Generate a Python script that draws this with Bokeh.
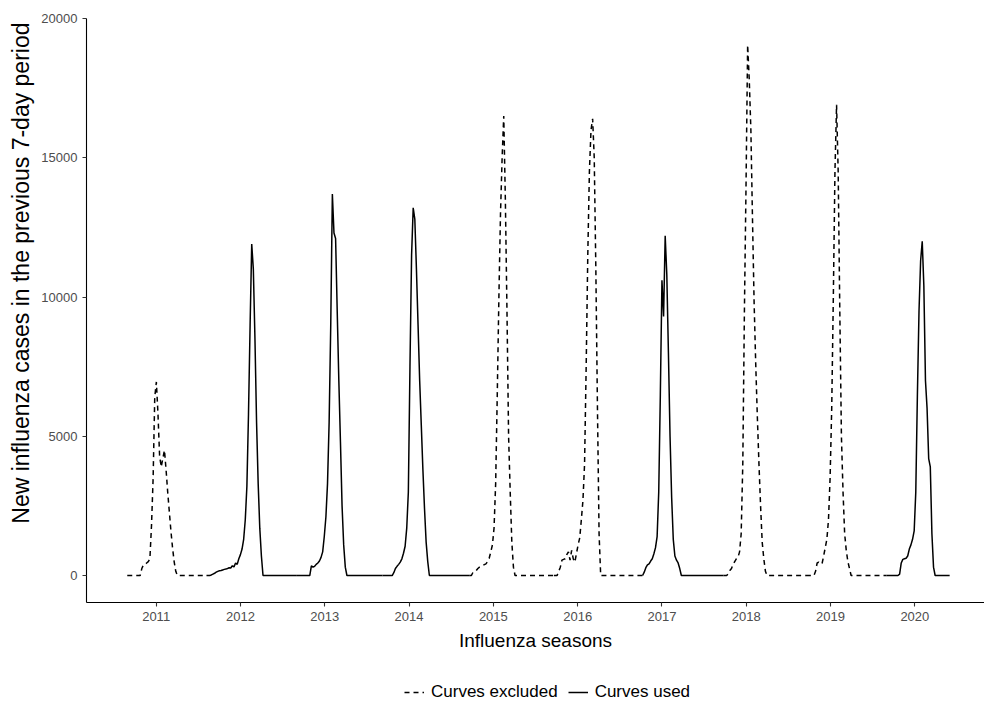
import numpy as np
import pandas as pd
from bokeh.plotting import figure
from bokeh.layouts import column
from bokeh.models import Range1d, FixedTicker, Legend, LegendItem, BasicTickFormatter, Title
from bokeh.embed import file_html
from bokeh.resources import INLINE

# ---------------- data (weekly new influenza cases) ----------------
first_week = "2010-08-29"
season_labels = ["2011", "2012", "2013", "2014", "2015", "2016", "2017", "2018", "2019", "2020"]
season_excluded = [True, False, False, False, True, True, False, True, True, False]

cases_2011 = [0, 0, 0, 0, 0, 0, 0, 0, 0, 250, 380, 400, 450, 500, 600, 1800, 3500, 6400, 6950, 5800,
              4300, 3900, 4200, 4500, 3800, 3000, 2300, 1600, 1000, 500, 150, 0,
              0, 0, 0, 0, 0, 0, 0, 0, 0, 0, 0, 0, 0, 0, 0, 0, 0]
cases_2012 = [0, 0, 0, 20, 50, 80, 120, 150, 170, 180, 200, 220, 230, 250, 280, 270, 350, 310, 450, 400,
              600, 750, 950, 1300, 2000, 3200, 5800, 9000, 11900, 11000, 8500, 5500, 3300, 1700, 700, 0,
              0, 0, 0, 0, 0, 0, 0, 0, 0, 0, 0, 0, 0, 0, 0, 0, 0, 0, 0, 0]
cases_2013 = [0, 0, 0, 0, 0, 0, 0, 0, 0, 350, 300, 330, 400, 450, 520, 650, 850, 1400, 2100, 3300,
              5500, 9000, 13700, 12300, 12100, 9500, 7000, 4800, 2500, 1100, 300, 0,
              0, 0, 0, 0, 0, 0, 0, 0, 0, 0, 0, 0, 0, 0, 0, 0, 0, 0, 0, 0, 0]
cases_2014 = [0, 0, 0, 0, 0, 0, 0, 100, 250, 330, 400, 480, 600, 800, 1050, 1700, 3000, 7500, 11500, 13200,
              12800, 11000, 9000, 7000, 5400, 3800, 2400, 1200, 500, 0,
              0, 0, 0, 0, 0, 0, 0, 0, 0, 0, 0, 0, 0, 0, 0, 0, 0, 0, 0, 0, 0, 0, 0, 0]
cases_2015 = [0, 0, 120, 150, 180, 250, 300, 330, 360, 390, 420, 500, 620, 850, 1100, 1700, 3300, 6500, 10000, 13000,
              15000, 16500, 13500, 9500, 5000, 3000, 1200, 300, 0,
              0, 0, 0, 0, 0, 0, 0, 0, 0, 0, 0, 0, 0, 0, 0, 0, 0, 0, 0, 0, 0, 0, 0]
cases_2016 = [0, 0, 0, 150, 300, 550, 580, 600, 750, 850, 550, 900, 600, 480, 800, 1100, 1350, 2000, 2700, 4000,
              7500, 11500, 14500, 16000, 16400, 15000, 11000, 6000, 1500, 0,
              0, 0, 0, 0, 0, 0, 0, 0, 0, 0, 0, 0, 0, 0, 0, 0, 0, 0, 0, 0, 0, 0, 0, 0, 0]
cases_2017 = [0, 120, 280, 380, 420, 520, 600, 780, 1000, 1400, 3000, 6500, 10600, 9300, 12200, 10800, 8000, 5000, 2800, 1300,
              700, 550, 450, 250, 0,
              0, 0, 0, 0, 0, 0, 0, 0, 0, 0, 0, 0, 0, 0, 0, 0, 0, 0, 0, 0, 0, 0, 0, 0, 0]
cases_2018 = [0, 0, 0, 60, 180, 250, 400, 500, 600, 650, 850, 1500, 4000, 9500, 14000, 19050, 17800, 16000, 12800, 9800,
              7600, 5700, 4000, 2500, 1200, 600, 150, 0,
              0, 0, 0, 0, 0, 0, 0, 0, 0, 0, 0, 0, 0, 0, 0, 0, 0, 0, 0, 0, 0, 0, 0]
cases_2019 = [0, 0, 0, 0, 0, 0, 150, 450, 480, 430, 420, 700, 1000, 1300, 2000, 3500, 6000, 10000, 14500, 16900,
              14500, 9500, 5000, 3000, 1500, 900, 500, 250, 0,
              0, 0, 0, 0, 0, 0, 0, 0, 0, 0, 0, 0, 0, 0, 0, 0, 0, 0, 0, 0, 0]
cases_2020 = [0, 0, 0, 0, 0, 0, 0, 0, 50, 450, 580, 600, 620, 700, 950, 1100, 1300, 1600, 3000, 6500,
              9500, 11300, 12000, 10400, 7000, 6000, 4200, 3900, 1500, 300, 0,
              0, 0, 0, 0, 0, 0, 0, 0, 0]

season_cases = [cases_2011, cases_2012, cases_2013, cases_2014, cases_2015,
                cases_2016, cases_2017, cases_2018, cases_2019, cases_2020]

year_ticks = [2011, 2012, 2013, 2014, 2015, 2016, 2017, 2018, 2019, 2020]
case_ticks = [0, 5000, 10000, 15000, 20000]
legend_labels = ["Curves excluded", "Curves used"]

# ---------------- build weekly time axis ----------------
all_cases = np.concatenate([np.array(c, dtype=float) for c in season_cases])
dates = pd.date_range(first_week, periods=len(all_cases), freq="7D")
days_in_year = np.where(dates.is_leap_year, 366.0, 365.0)
x_all = np.asarray(dates.year + (dates.dayofyear - 1) / days_in_year, dtype=float)

FONT = "Liberation Sans"
DASH = "5 4"
LW = 1.5

p = figure(frame_width=898, frame_height=584, output_backend="svg", toolbar_location=None,
           x_range=Range1d(2010.174, 2020.826), y_range=Range1d(-969, 20000),
           min_border_left=86, min_border_right=0, min_border_top=18, min_border_bottom=66)
p.background_fill_color = "white"
p.border_fill_color = "white"
p.outline_line_color = None
p.xgrid.visible = False
p.ygrid.visible = False

start = 0
for i, cases in enumerate(season_cases):
    end = start + len(cases)
    stop = min(end + 1, len(all_cases))
    p.line(x_all[start:stop], all_cases[start:stop], line_color="black", line_width=LW,
           line_dash=DASH if season_excluded[i] else "solid")
    start = end

# axes
for ax in (p.xaxis[0], p.yaxis[0]):
    ax.axis_line_color = "black"
    ax.axis_line_width = 1.1
    ax.major_tick_line_color = "#333333"
    ax.major_tick_line_width = 1.1
    ax.major_tick_in = 0
    ax.major_tick_out = 4
    ax.minor_tick_line_color = None
    ax.major_label_text_font = FONT
    ax.major_label_text_font_size = "13px"
    ax.major_label_text_color = "#4D4D4D"
    ax.major_label_standoff = 5
    ax.axis_label_text_font = FONT
    ax.axis_label_text_font_style = "normal"
    ax.axis_label_text_color = "black"

p.xaxis[0].ticker = FixedTicker(ticks=year_ticks)
p.xaxis[0].axis_label = "Influenza seasons"
p.xaxis[0].axis_label_text_font_size = "19px"
p.xaxis[0].axis_label_standoff = 6
p.yaxis[0].ticker = FixedTicker(ticks=case_ticks)
p.yaxis[0].formatter = BasicTickFormatter(use_scientific=False)

ytitle = Title(text="New influenza cases in the previous 7-day period", align="right",
               offset=4, text_font=FONT, text_font_size="23px", text_font_style="normal",
               text_color="black", standoff=9)
p.add_layout(ytitle, "left")

# ---------------- legend strip below the chart ----------------
leg = figure(width=984, height=34, output_backend="svg", toolbar_location=None,
             x_range=Range1d(0, 1), y_range=Range1d(0, 1),
             min_border=0, min_border_left=0, min_border_right=0, min_border_top=0, min_border_bottom=0)
leg.axis.visible = False
leg.xgrid.visible = False
leg.ygrid.visible = False
leg.outline_line_color = None
leg.background_fill_color = "white"
leg.border_fill_color = "white"
key_dashed = leg.line([5, 6], [5, 6], line_color="black", line_width=LW, line_dash=DASH)
key_solid = leg.line([5, 6], [5, 6], line_color="black", line_width=LW)
legend = Legend(items=[LegendItem(label=legend_labels[0], renderers=[key_dashed]),
                       LegendItem(label=legend_labels[1], renderers=[key_solid])],
                orientation="horizontal", location=(318, 0),
                label_text_font=FONT, label_text_font_size="17px", label_text_color="black",
                glyph_width=20, glyph_height=16, spacing=10, padding=0, margin=0,
                label_standoff=7, border_line_color=None, background_fill_alpha=0)
leg.add_layout(legend, "center")

open("out.html", "w").write(file_html(column(p, leg, spacing=0), INLINE))
